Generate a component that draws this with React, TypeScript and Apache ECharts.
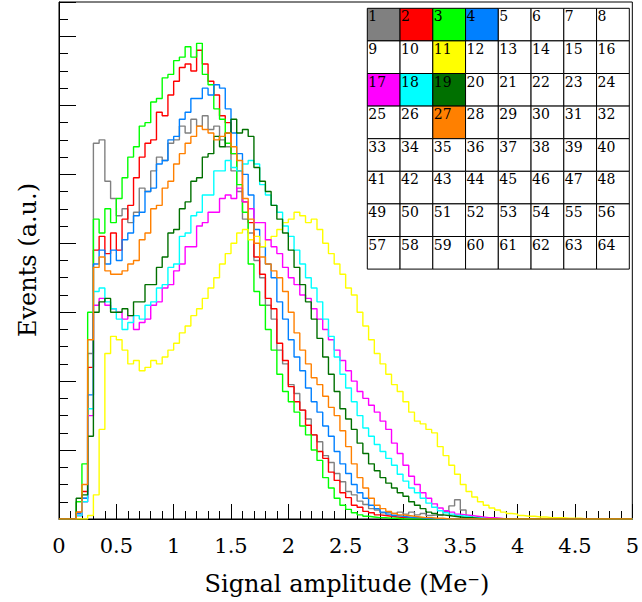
import React, { useEffect, useRef } from "react";
import * as echarts from "echarts";

// Histogram binning: 100 bins of width 0.05 from 0 to 5 (Me-)
const BIN_WIDTH = 0.05;
const X_MIN = 0;
const X_MAX = 5;

// channel numbers of the drawn histograms
const CHANNELS = [1, 2, 3, 4, 11, 17, 18, 19, 27];

const CH1 = [
  0, 0, 0, 0.05, 0.3, 2.4, 5.45, 5.5, 4.9, 4.65,
  4.4, 4.5, 4.3, 4.45, 4.8, 4.75, 5.05, 5.25, 5.2, 5.45,
  5.5, 5.7, 5.6, 5.8, 5.7, 5.85, 5.65, 5.7, 5.5, 5.4,
  5.05, 4.75, 4.35, 4.15, 3.75, 3.5, 3.1, 2.9, 2.45, 2.25,
  1.95, 1.82, 1.58, 1.45, 1.22, 1.12, 0.92, 0.82, 0.66, 0.54,
  0.4, 0.35, 0.26, 0.21, 0.15, 0.13, 0.09, 0.1, 0.08, 0.1,
  0.07, 0.1, 0.06, 0.08, 0.05, 0.06, 0.05, 0.11, 0.19, 0.28,
  0.13, 0.04, 0.02, 0.02, 0.01, 0.01, 0, 0, 0, 0,
  0, 0, 0, 0, 0, 0, 0, 0, 0, 0,
  0, 0, 0, 0, 0, 0, 0, 0, 0, 0,
];
const CH2 = [
  0, 0, 0, 0.1, 0.4, 2.2, 3.9, 4.1, 3.85, 4.15,
  3.9, 4.35, 4.55, 4.95, 5.25, 5.45, 5.5, 5.9, 5.85, 6.15,
  6.35, 6.55, 6.6, 6.5, 6.8, 6.6, 6.35, 6.15, 5.85, 5.75,
  5.3, 5.05, 4.6, 4.3, 3.8, 3.55, 3.2, 3.05, 2.55, 2.3,
  1.92, 1.7, 1.58, 1.36, 1.22, 0.98, 0.88, 0.68, 0.56, 0.38,
  0.31, 0.2, 0.17, 0.11, 0.09, 0.06, 0.05, 0.04, 0.03, 0.02,
  0.02, 0.01, 0.01, 0.01, 0, 0, 0, 0, 0, 0,
  0, 0, 0, 0, 0, 0, 0, 0, 0, 0,
  0, 0, 0, 0, 0, 0, 0, 0, 0, 0,
  0, 0, 0, 0, 0, 0, 0, 0, 0, 0,
];
const CH3 = [
  0, 0, 0, 0.25, 0.8, 3.0, 4.35, 4.15, 4.5, 4.3,
  4.65, 4.95, 5.25, 5.4, 5.7, 5.75, 6.05, 6.1, 6.4, 6.45,
  6.65, 6.7, 6.85, 6.7, 6.9, 6.45, 6.3, 5.95, 5.8, 5.45,
  5.3, 4.85, 4.45, 3.7, 3.3, 3.1, 2.75, 2.45, 2.1, 1.85,
  1.7, 1.55, 1.35, 1.22, 1.0, 0.85, 0.6, 0.45, 0.3, 0.2,
  0.14, 0.09, 0.06, 0.04, 0.03, 0.02, 0.02, 0.01, 0.01, 0,
  0, 0, 0, 0, 0, 0, 0, 0, 0, 0,
  0, 0, 0, 0, 0, 0, 0, 0, 0, 0,
  0, 0, 0, 0, 0, 0, 0, 0, 0, 0,
  0, 0, 0, 0, 0, 0, 0, 0, 0, 0,
];
const CH4 = [
  0, 0, 0, 0.08, 0.3, 1.8, 3.7, 3.9, 3.7, 3.9,
  3.75, 4.05, 4.15, 4.4, 4.45, 4.75, 4.8, 5.15, 5.2, 5.5,
  5.55, 5.8, 5.9, 6.1, 6.1, 6.25, 6.15, 6.3, 6.25, 5.95,
  5.6, 5.3, 5.0, 4.7, 4.2, 3.95, 3.7, 3.5, 3.15, 2.9,
  2.6, 2.35, 2.15, 1.9, 1.7, 1.55, 1.35, 1.2, 0.98, 0.8,
  0.66, 0.5, 0.38, 0.3, 0.2, 0.15, 0.1, 0.07, 0.05, 0.04,
  0.03, 0.02, 0.02, 0.01, 0.01, 0, 0, 0, 0, 0,
  0, 0, 0, 0, 0, 0, 0, 0, 0, 0,
  0, 0, 0, 0, 0, 0, 0, 0, 0, 0,
  0, 0, 0, 0, 0, 0, 0, 0, 0, 0,
];
const CH11 = [
  0, 0, 0, 0, 0, 0.05, 0.35, 1.3, 2.4, 2.65,
  2.6, 2.45, 2.25, 2.3, 2.15, 2.2, 2.3, 2.25, 2.35, 2.45,
  2.55, 2.7, 2.8, 2.95, 3.05, 3.2, 3.35, 3.5, 3.7, 3.85,
  4.0, 4.15, 4.2, 4.05, 4.1, 3.95, 4.05, 4.1, 4.2, 4.3,
  4.35, 4.45, 4.4, 4.3, 4.35, 4.2, 4.0, 3.85, 3.7, 3.55,
  3.35, 3.25, 3.0, 2.8, 2.6, 2.4, 2.25, 2.1, 1.95, 1.85,
  1.7, 1.55, 1.42, 1.38, 1.3, 1.25, 1.05, 0.92, 0.78, 0.65,
  0.5, 0.4, 0.32, 0.25, 0.2, 0.16, 0.13, 0.1, 0.08, 0.07,
  0.05, 0.04, 0.04, 0.03, 0.03, 0.02, 0.02, 0.02, 0.01, 0.01,
  0.01, 0, 0, 0, 0, 0, 0, 0, 0, 0,
];
const CH17 = [
  0, 0, 0, 0.05, 0.25, 1.5, 3.1, 3.2, 3.1, 3.05,
  3.0, 2.9, 2.95, 2.75, 2.85, 2.9, 3.1, 3.15, 3.35, 3.4,
  3.6, 3.7, 3.95, 3.95, 4.25, 4.3, 4.45, 4.45, 4.65, 4.7,
  4.65, 4.8, 4.6, 4.5, 4.3, 4.3, 4.05, 3.95, 3.85, 3.65,
  3.5, 3.4, 3.25, 3.2, 3.05, 2.9, 2.75, 2.6, 2.45, 2.3,
  2.15, 2.0, 1.85, 1.75, 1.65, 1.55, 1.42, 1.3, 1.1, 0.95,
  0.78, 0.62, 0.5, 0.38, 0.3, 0.22, 0.16, 0.12, 0.1, 0.07,
  0.06, 0.05, 0.04, 0.03, 0.02, 0.02, 0.01, 0, 0, 0,
  0, 0, 0, 0, 0, 0, 0, 0, 0, 0,
  0, 0, 0, 0, 0, 0, 0, 0, 0, 0,
];
const CH18 = [
  0, 0, 0, 0.05, 0.25, 1.6, 3.3, 3.35, 3.15, 3.05,
  2.9, 2.75, 2.85, 2.95, 2.9, 3.1, 3.15, 3.35, 3.4, 3.65,
  3.7, 4.1, 4.15, 4.4, 4.45, 4.7, 4.7, 5.05, 5.05, 5.2,
  5.1, 5.05, 5.15, 5.2, 5.15, 4.85, 4.7, 4.55, 4.45, 4.25,
  4.1, 3.9, 3.7, 3.5, 3.35, 3.15, 2.9, 2.65, 2.35, 2.1,
  1.9, 1.7, 1.5, 1.32, 1.2, 1.08, 0.98, 0.88, 0.78, 0.65,
  0.55, 0.45, 0.38, 0.3, 0.23, 0.17, 0.12, 0.09, 0.07, 0.05,
  0.04, 0.03, 0.02, 0.01, 0, 0, 0, 0, 0, 0,
  0, 0, 0, 0, 0, 0, 0, 0, 0, 0,
  0, 0, 0, 0, 0, 0, 0, 0, 0, 0,
];
const CH19 = [
  0, 0, 0, 0.3, 0.35, 1.2, 3.0, 3.15, 3.2, 3.0,
  3.0, 3.05, 2.95, 3.15, 3.15, 3.4, 3.4, 3.65, 3.8, 4.15,
  4.2, 4.5, 4.6, 4.9, 4.95, 5.25, 5.3, 5.55, 5.4, 5.6,
  5.8, 5.6, 5.65, 5.55, 5.1, 4.9, 4.75, 4.55, 4.35, 4.15,
  3.9, 3.65, 3.4, 3.15, 2.9, 2.62, 2.35, 2.1, 1.85, 1.6,
  1.45, 1.3, 1.1, 0.95, 0.8, 0.7, 0.6, 0.52, 0.45, 0.38,
  0.33, 0.25, 0.2, 0.15, 0.1, 0.08, 0.06, 0.05, 0.04, 0.03,
  0.02, 0.02, 0.01, 0, 0, 0, 0, 0, 0, 0,
  0, 0, 0, 0, 0, 0, 0, 0, 0, 0,
  0, 0, 0, 0, 0, 0, 0, 0, 0, 0,
];
const CH27 = [
  0, 0, 0, 0.1, 0.5, 2.6, 3.65, 3.8, 3.6, 3.55,
  3.55, 3.6, 3.7, 3.75, 4.05, 4.15, 4.5, 4.55, 4.8, 4.9,
  5.15, 5.3, 5.45, 5.55, 5.7, 5.65, 5.6, 5.5, 5.55, 5.6,
  5.4, 5.2, 4.65, 4.35, 4.0, 3.8, 3.7, 3.6, 3.5, 3.3,
  3.0, 2.7, 2.45, 2.25, 2.05, 1.95, 1.78, 1.62, 1.5, 1.28,
  1.05, 0.8, 0.6, 0.45, 0.3, 0.2, 0.15, 0.11, 0.08, 0.06,
  0.05, 0.04, 0.03, 0.02, 0.02, 0.01, 0.01, 0, 0, 0,
  0, 0, 0, 0, 0, 0, 0, 0, 0, 0,
  0, 0, 0, 0, 0, 0, 0, 0, 0, 0,
  0, 0, 0, 0, 0, 0, 0, 0, 0, 0,
];

const SERIES_VALUES = [CH1, CH2, CH3, CH4, CH11, CH17, CH18, CH19, CH27];
const SERIES_COLORS = [
  "#808080", "#ff0000", "#00ff00", "#0080ff", "#ffff00",
  "#ff00ff", "#00ffff", "#007000", "#ff8000",
];

// 8x8 channel map
const MAP_ROWS = 8;
const MAP_COLS = 8;

const X_TITLE = "Signal amplitude (Me\u207B)";
const Y_TITLE = "Events (a.u.)";
const SERIF = "'DejaVu Serif', 'Liberation Serif', serif";

function histPoints(values: number[]) {
  const pts: number[][] = values.map((v, i) => [X_MIN + i * BIN_WIDTH, v]);
  pts.push([X_MAX, values[values.length - 1]]);
  return pts;
}

export default function App() {
  const ref = useRef<HTMLDivElement>(null);
  useEffect(() => {
    if (!ref.current) return;
    const chart = echarts.init(ref.current, undefined, { renderer: "svg" });

    const gridL = 59, gridT = 2, gridW = 577, gridH = 517;

    const mapX0 = 367.3, mapY0 = 8.3, cellW = 32.75, cellH = 32.6;
    const mapEls: any[] = [];
    for (let r = 0; r < MAP_ROWS; r++) {
      for (let c = 0; c < MAP_COLS; c++) {
        const ch = r * MAP_COLS + c + 1;
        const idx = CHANNELS.indexOf(ch);
        mapEls.push({
          type: "rect",
          z: 100,
          shape: { x: mapX0 + c * cellW, y: mapY0 + r * cellH, width: cellW, height: cellH },
          style: { fill: idx >= 0 ? SERIES_COLORS[idx] : "#ffffff", stroke: "#000", lineWidth: 1 },
        });
        mapEls.push({
          type: "text",
          z: 101,
          x: mapX0 + c * cellW + 1,
          y: mapY0 + r * cellH + 1,
          style: {
            text: String(ch),
            fontSize: 14,
            fontFamily: SERIF,
            fill: "#000",
            textAlign: "left",
            textVerticalAlign: "top",
          },
        });
      }
    }

    const axisColor = "#000";
    chart.setOption({
      animation: false,
      backgroundColor: "#fff",
      grid: {
        left: gridL, top: gridT, width: gridW, height: gridH,
        show: true, borderColor: "#000", borderWidth: 1, backgroundColor: "transparent",
      },
      xAxis: {
        type: "value", min: X_MIN, max: X_MAX, interval: 0.5,
        axisLine: { show: true, lineStyle: { color: axisColor, width: 1 } },
        axisTick: { show: true, inside: true, length: 15, lineStyle: { color: axisColor } },
        minorTick: { show: true, splitNumber: 5, length: 8, lineStyle: { color: axisColor } },
        axisLabel: { fontSize: 21, fontFamily: SERIF, color: "#000", margin: 16 },
        splitLine: { show: false },
        minorSplitLine: { show: false },
      },
      yAxis: [
        {
          type: "value", min: 0, max: 7.5, interval: 0.25,
          axisLine: { show: true, lineStyle: { color: axisColor } },
          axisTick: { show: true, inside: true, length: 9, lineStyle: { color: axisColor } },
          axisLabel: { show: false },
          splitLine: { show: false },
        },
        {
          type: "value", min: 0, max: 7.5, interval: 1, position: "left",
          axisLine: { show: false },
          axisTick: { show: true, inside: true, length: 17, lineStyle: { color: axisColor } },
          axisLabel: { show: false },
          splitLine: { show: false },
        },
      ],
      series: SERIES_VALUES.map((vals, i) => ({
        name: String(CHANNELS[i]),
        type: "line",
        step: "end",
        yAxisIndex: 0,
        data: histPoints(vals),
        showSymbol: false,
        symbol: "none",
        silent: true,
        lineStyle: { color: SERIES_COLORS[i], width: 1.4 },
        z: 2 + i,
      })),
      graphic: [
        {
          type: "text", z: 100,
          x: 347, y: 584,
          style: {
            text: X_TITLE, fontSize: 24, fontFamily: SERIF, fill: "#000",
            textAlign: "center", textVerticalAlign: "middle",
          },
        },
        {
          type: "text", z: 100,
          x: 28, y: 260, rotation: Math.PI / 2,
          style: {
            text: Y_TITLE, fontSize: 24, fontFamily: SERIF, fill: "#000",
            textAlign: "center", textVerticalAlign: "middle",
          },
        },
        ...mapEls,
      ],
    });
    return () => chart.dispose();
  }, []);
  return (
    <div
      ref={ref}
      style={{ position: "fixed", left: 0, top: 0, width: 642, height: 602, background: "#fff" }}
    />
  );
}
